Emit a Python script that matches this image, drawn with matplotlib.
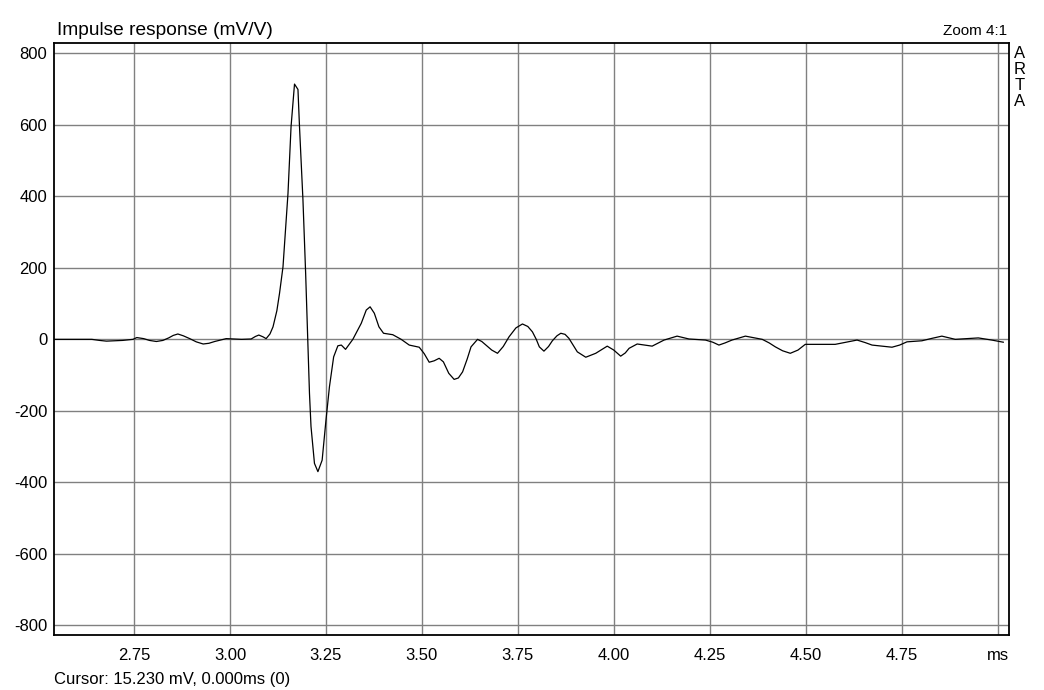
import matplotlib
matplotlib.use("Agg")
import matplotlib.pyplot as plt

plt.rcParams['font.family'] = ['Liberation Sans', 'DejaVu Sans']

# Data (time in ms, amplitude in mV/V)
time_ms = [2.542, 2.640, 2.660, 2.678, 2.700, 2.720, 2.747, 2.757, 2.775, 2.790,
           2.808, 2.825, 2.840, 2.852, 2.864, 2.878, 2.895, 2.912, 2.930, 2.945,
           2.960, 2.990, 3.030, 3.055, 3.066, 3.075, 3.086, 3.094, 3.104, 3.112,
           3.122, 3.129, 3.138, 3.151, 3.159, 3.168, 3.177, 3.181, 3.190, 3.197,
           3.203, 3.207, 3.211, 3.220, 3.229, 3.240, 3.250, 3.259, 3.270, 3.281,
           3.290, 3.301, 3.320, 3.342, 3.355, 3.365, 3.376, 3.388, 3.400, 3.424,
           3.446, 3.467, 3.493, 3.506, 3.519, 3.532, 3.545, 3.556, 3.570, 3.584,
           3.595, 3.606, 3.618, 3.628, 3.645, 3.656, 3.667, 3.682, 3.697, 3.712,
           3.727, 3.745, 3.762, 3.776, 3.788, 3.798, 3.806, 3.818, 3.830, 3.840,
           3.852, 3.862, 3.873, 3.883, 3.895, 3.905, 3.927, 3.953, 3.983, 4.000,
           4.018, 4.030, 4.040, 4.061, 4.100, 4.131, 4.165, 4.196, 4.239, 4.258,
           4.274, 4.290, 4.308, 4.343, 4.387, 4.405, 4.421, 4.440, 4.460, 4.480,
           4.499, 4.577, 4.634, 4.655, 4.673, 4.725, 4.745, 4.764, 4.803, 4.830,
           4.855, 4.890, 4.950, 4.985, 5.015]
response = [0, 0, -3, -5, -4, -3, 0, 5, 2, -3,
            -6, -3, 4, 11, 15, 10, 2, -7, -13, -11,
            -6, 2, 0, 1, 8, 12, 7, 2, 15, 35,
            80, 129, 203, 408, 595, 714, 699, 595, 390, 185,
            -21, -151, -244, -347, -370, -338, -226, -133, -49, -18,
            -16, -28, 0, 45, 82, 91, 73, 35, 17, 13,
            0, -16, -22, -40, -64, -60, -53, -63, -95, -112,
            -108, -91, -55, -21, 0, -6, -16, -30, -39, -20,
            7, 32, 43, 36, 21, 0, -21, -33, -20, -4,
            10, 17, 14, 3, -18, -35, -50, -39, -19, -30,
            -47, -38, -25, -13, -19, -2, 9, 1, -2, -8,
            -16, -10, -2, 9, 0, -10, -21, -32, -39, -30,
            -14, -14, -2, -9, -16, -22, -16, -7, -4, 3,
            9, 0, 4, -2, -8]

x_ticks = [2.75, 3.00, 3.25, 3.50, 3.75, 4.00, 4.25, 4.50, 4.75, 5.00]
x_tick_labels = ["2.75", "3.00", "3.25", "3.50", "3.75", "4.00", "4.25", "4.50", "4.75", "ms"]
y_ticks = [800, 600, 400, 200, 0, -200, -400, -600, -800]

fig = plt.figure(figsize=(10.44, 6.9), dpi=100)
ax = fig.add_axes([0.052, 0.0797, 0.9145, 0.8575])

ax.plot(time_ms, response, color='black', linewidth=0.9)

ax.set_xlim(2.542, 5.030)
ax.set_ylim(-827, 828)
ax.set_xticks(x_ticks)
ax.set_xticklabels(x_tick_labels)
ax.set_yticks(y_ticks)
ax.set_yticklabels([str(v) for v in y_ticks])
ax.grid(True, color='#808080', linewidth=1.0)
ax.set_axisbelow(True)
ax.tick_params(axis='both', length=0, labelsize=12, colors='black')
ax.tick_params(axis='x', pad=9)
ax.tick_params(axis='y', pad=5)
for s in ax.spines.values():
    s.set_linewidth(1.3)
    s.set_color('black')

fig.text(57 / 1044, 1 - 35 / 690, "Impulse response (mV/V)", fontsize=13.8,
         ha='left', va='baseline')
fig.text(1007 / 1044, 1 - 35 / 690, "Zoom 4:1", fontsize=11,
         ha='right', va='baseline')
for i, ch in enumerate("ARTA"):
    fig.text(1020 / 1044, 1 - (58 + i * 16) / 690, ch, fontsize=12,
             ha='center', va='baseline')
fig.text(54 / 1044, 1 - 684 / 690, "Cursor: 15.230 mV, 0.000ms (0)", fontsize=12,
         ha='left', va='baseline')

fig.savefig("out.png", dpi=100, facecolor='white')
